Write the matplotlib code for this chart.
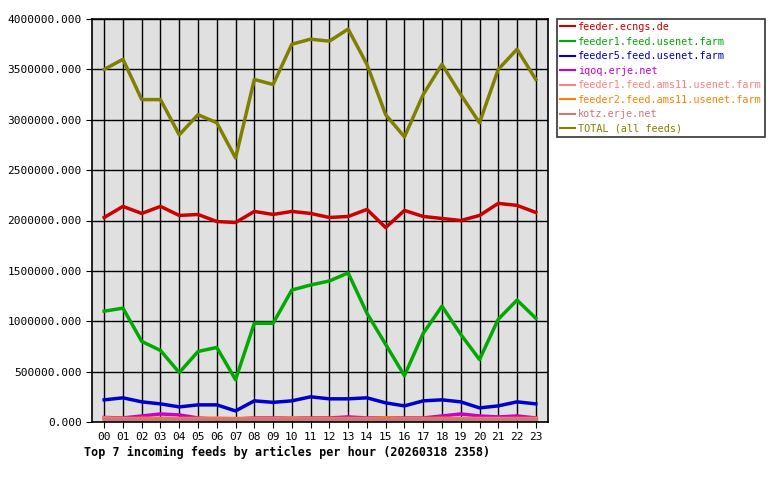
import matplotlib
matplotlib.use("Agg")
import matplotlib.pyplot as plt
from matplotlib.ticker import FuncFormatter

hours = [f"{h:02d}" for h in range(24)]
ecngs = [2.03,2.14,2.07,2.14,2.05,2.06,1.99,1.98,2.09,2.06,2.09,2.07,2.03,2.04,2.11,1.93,2.10,2.04,2.02,2.00,2.05,2.17,2.15,2.08]
feeder1 = [1.10,1.13,0.80,0.71,0.49,0.70,0.74,0.42,0.98,0.98,1.31,1.36,1.40,1.48,1.08,0.77,0.46,0.88,1.15,0.87,0.62,1.02,1.21,1.03]
feeder5 = [0.220,0.240,0.200,0.180,0.150,0.170,0.170,0.110,0.210,0.195,0.210,0.250,0.230,0.230,0.240,0.190,0.160,0.210,0.220,0.200,0.140,0.160,0.200,0.180]
iqoq = [0.045,0.040,0.060,0.080,0.070,0.040,0.030,0.030,0.040,0.040,0.040,0.040,0.040,0.050,0.040,0.040,0.040,0.040,0.060,0.080,0.060,0.050,0.060,0.040]
ams1 = [0.040,0.035,0.035,0.035,0.035,0.035,0.040,0.035,0.035,0.035,0.040,0.035,0.035,0.035,0.035,0.035,0.035,0.035,0.035,0.035,0.035,0.035,0.035,0.035]
ams2 = [0.030,0.025,0.035,0.035,0.030,0.030,0.030,0.030,0.030,0.030,0.030,0.030,0.030,0.030,0.030,0.040,0.030,0.030,0.035,0.030,0.025,0.025,0.030,0.030]
kotz = [0.030,0.030,0.030,0.030,0.030,0.030,0.030,0.030,0.030,0.030,0.030,0.030,0.030,0.030,0.030,0.030,0.030,0.030,0.030,0.030,0.030,0.030,0.030,0.030]
total = [3.50,3.60,3.20,3.20,2.85,3.05,2.97,2.62,3.40,3.35,3.75,3.80,3.78,3.90,3.55,3.05,2.83,3.25,3.55,3.25,2.97,3.50,3.70,3.40]

series = [
    ("feeder.ecngs.de", ecngs, "#cc0000"),
    ("feeder1.feed.usenet.farm", feeder1, "#00aa00"),
    ("feeder5.feed.usenet.farm", feeder5, "#0000cc"),
    ("iqoq.erje.net", iqoq, "#cc00cc"),
    ("feeder1.feed.ams11.usenet.farm", ams1, "#ff8080"),
    ("feeder2.feed.ams11.usenet.farm", ams2, "#ff8000"),
    ("kotz.erje.net", kotz, "#cc7777"),
    ("TOTAL (all feeds)", total, "#808000"),
]

plt.rcParams['font.family'] = ['DejaVu Sans Mono']
fig = plt.figure(figsize=(7.8, 4.8), dpi=100)
ax = fig.add_axes([92/780, 58/480, 456/780, 403/480])
ax.set_facecolor("#e0e0e0")
x = list(range(24))
order = [7, 0, 1, 2, 3, 4, 5, 6]
for i in order:
    name, vals, col = series[i]
    ax.plot(x, [v * 1e6 for v in vals], color=col, lw=2.5, label=name)
ax.set_xlim(-0.65, 23.65)
ax.set_ylim(0, 4e6)
ax.set_xticks(x)
ax.set_xticklabels(hours, fontsize=8)
ax.set_yticks([i * 5e5 for i in range(9)])
ax.yaxis.set_major_formatter(FuncFormatter(lambda v, p: f"{v:.3f}"))
ax.tick_params(labelsize=8, direction="out", length=4)
ax.grid(True, color="black", lw=1)
ax.set_axisbelow(True)
for s in ax.spines.values():
    s.set_linewidth(1.2)
handles, labels = ax.get_legend_handles_labels()
hm = {l: h for h, l in zip(handles, labels)}
names = [s[0] for s in series]
leg = fig.legend([hm[n] for n in names], names, loc="upper left",
                 bbox_to_anchor=(557/780, 1 - 19/480), fontsize=7.3, frameon=True,
                 fancybox=False, edgecolor="black", handlelength=1.5, borderpad=0.3,
                 labelspacing=0.45, handletextpad=0.3, borderaxespad=0)
leg.get_frame().set_linewidth(1.2)
for t, s in zip(leg.get_texts(), series):
    t.set_color(s[2])
for h in leg.get_lines():
    h.set_linewidth(1.5)
fig.text(84/780, 1 - 452/480, "Top 7 incoming feeds by articles per hour (20260318 2358)",
         fontsize=8.5, fontweight="bold", va="center")
fig.savefig("out.png", dpi=100)
